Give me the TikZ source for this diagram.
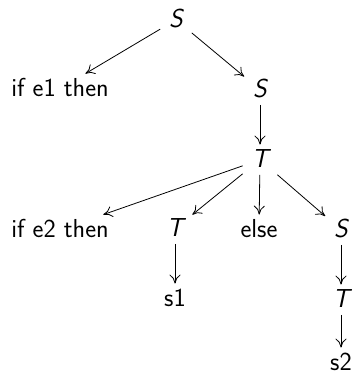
\documentclass[tikz,border=0pt]{standalone}
\usetikzlibrary{arrows.meta}
\begin{document}
\begin{tikzpicture}[x=1pt,y=-1pt,line width=0.8pt,
  lbl/.style={font=\fontsize{26}{31}\selectfont\sffamily,inner xsep=8.6pt,inner ysep=3.5pt,text height=18.5pt,text depth=4pt,anchor=base},
  nt/.style={lbl,font=\fontsize{26}{31}\selectfont\sffamily\slshape},
  arr/.style={-{Computer Modern Rightarrow[length=9pt,width=11pt,line width=0.8pt]}}]
\useasboundingbox (0,0) rectangle (354,375);
\node[nt]  (s0) at (176,27) {S};
\node[lbl] (if1) at (60,96) {if e1 then};
\node[nt]  (s1) at (260,97) {S};
\node[nt]  (t0) at (260,167) {T};
\node[lbl] (if2) at (60,237) {if e2 then};
\node[nt]  (t1) at (175,236) {T};
\node[lbl] (el) at (259,237) {else};
\node[nt]  (s2) at (341,237) {S};
\node[lbl] (x1) at (175,306) {s1};
\node[nt]  (t2) at (341,307) {T};
\node[lbl] (x2) at (341,370) {s2};
\draw[arr] (s0) -- (if1);
\draw[arr] (s0) -- (s1);
\draw[arr] (s1) -- (t0);
\draw[arr] (t0) -- (if2);
\draw[arr] (t0) -- (t1);
\draw[arr] (t0) -- (el);
\draw[arr] (t0) -- (s2);
\draw[arr] (t1) -- (x1);
\draw[arr] (s2) -- (t2);
\draw[arr] (t2) -- (x2);
\end{tikzpicture}
\end{document}
